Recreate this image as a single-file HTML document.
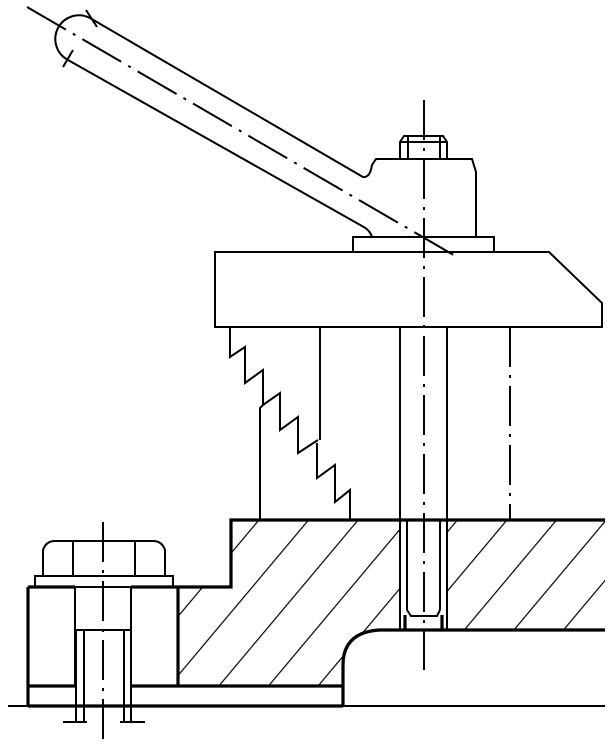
<!DOCTYPE html>
<html><head><meta charset="utf-8"><style>html,body{margin:0;padding:0;background:#fff}svg{display:block}</style></head>
<body>
<svg width="612" height="750" viewBox="0 0 612 750" xmlns="http://www.w3.org/2000/svg" fill="none" stroke="#000" stroke-width="2">
<defs>
<pattern id="h" patternUnits="userSpaceOnUse" width="38" height="38" patternTransform="rotate(40)">
<line x1="0" y1="0" x2="0" y2="38" stroke="#000" stroke-width="2.4"/>
</pattern>
</defs>
<path d="M231,520 H400 V630 H380 Q343,632 343,665 V686 H178 V587 H231 Z" fill="url(#h)" stroke="none"/>
<path d="M447,520 H605 V630 H447 Z" fill="url(#h)" stroke="none"/>

<path d="M90,18 L363,177 Q370,178 372,165 L376,159 H472 L476,172 V237"/>
<path d="M68,60 L362,226 Q370,230 372,237"/>
<path d="M90,18 A22,22 0 0 0 68,60"/>
<line x1="86" y1="10" x2="97" y2="27"/>
<line x1="63" y1="67" x2="73" y2="50"/>
<path d="M27,7 L457,257" stroke-dasharray="45,8,3,8"/>
<path d="M400,159 V142 L404,136 H443 L447,142 V159"/>
<line x1="400" y1="142" x2="447" y2="142"/>
<line x1="408" y1="137" x2="408" y2="159"/>
<line x1="440" y1="137" x2="440" y2="159"/>
<rect x="353" y="237" width="141" height="15"/>
<path d="M215,252 H549 L602,303 V327 H215 Z"/>
<path d="M424,100 V670" stroke-dasharray="40,8,3,8"/>
<path d="M230,327 V357 L245,347 V383 L263,370 V405 L280,393 V430 L298,417 V453 L318,440"/>
<path d="M260,520 V408 L263,405"/>
<path d="M320,327 V440"/>
<path d="M317,443 V478 L335,465 V502 L350,490 V520"/>
<line x1="400" y1="327" x2="400" y2="520"/>
<line x1="447" y1="327" x2="447" y2="520"/>
<path d="M510,327 V520" stroke-dasharray="40,8,3,8"/>

<g stroke-width="3.2">
<path d="M605,520 H231 V587 H178 V686"/>
<path d="M605,630 H380 Q343,632 343,665 V706"/>
<line x1="28" y1="706" x2="343" y2="706"/>
<line x1="28" y1="587" x2="28" y2="706"/>
<line x1="28" y1="587" x2="75" y2="587"/>
<line x1="131" y1="587" x2="178" y2="587"/>
<line x1="28" y1="686" x2="75" y2="686"/>
<line x1="131" y1="686" x2="343" y2="686"/>
<line x1="405" y1="615" x2="405" y2="630"/>
<line x1="442" y1="615" x2="442" y2="630"/>
</g>
<line x1="8" y1="706" x2="28" y2="706"/>
<line x1="343" y1="706" x2="605" y2="706"/>
<line x1="407" y1="520" x2="407" y2="610"/>
<line x1="440" y1="520" x2="440" y2="610"/>
<path d="M400,520 V630 M447,520 V630"/>
<path d="M407,610 L411,616 H437 L440,610"/>
<rect x="35" y="576" width="138" height="11"/>
<path d="M43,576 V550 Q46,541 55,541 H153 Q162,541 165,550 V576"/>
<line x1="73" y1="541" x2="73" y2="576"/>
<line x1="135" y1="541" x2="135" y2="576"/>
<path d="M75,587 V686 M75,630 H131 M131,587 V630"/>
<line x1="131" y1="587" x2="131" y2="686"/>
<line x1="178" y1="587" x2="178" y2="686"/>
<line x1="76" y1="630" x2="76" y2="722"/>
<line x1="84" y1="630" x2="84" y2="722"/>
<line x1="124" y1="630" x2="124" y2="722"/>
<line x1="131" y1="686" x2="131" y2="722"/>
<line x1="63" y1="722" x2="87" y2="722"/>
<line x1="120" y1="722" x2="145" y2="722"/>
<path d="M103,522 V745" stroke-dasharray="40,8,3,8"/>
</svg>
</body></html>
